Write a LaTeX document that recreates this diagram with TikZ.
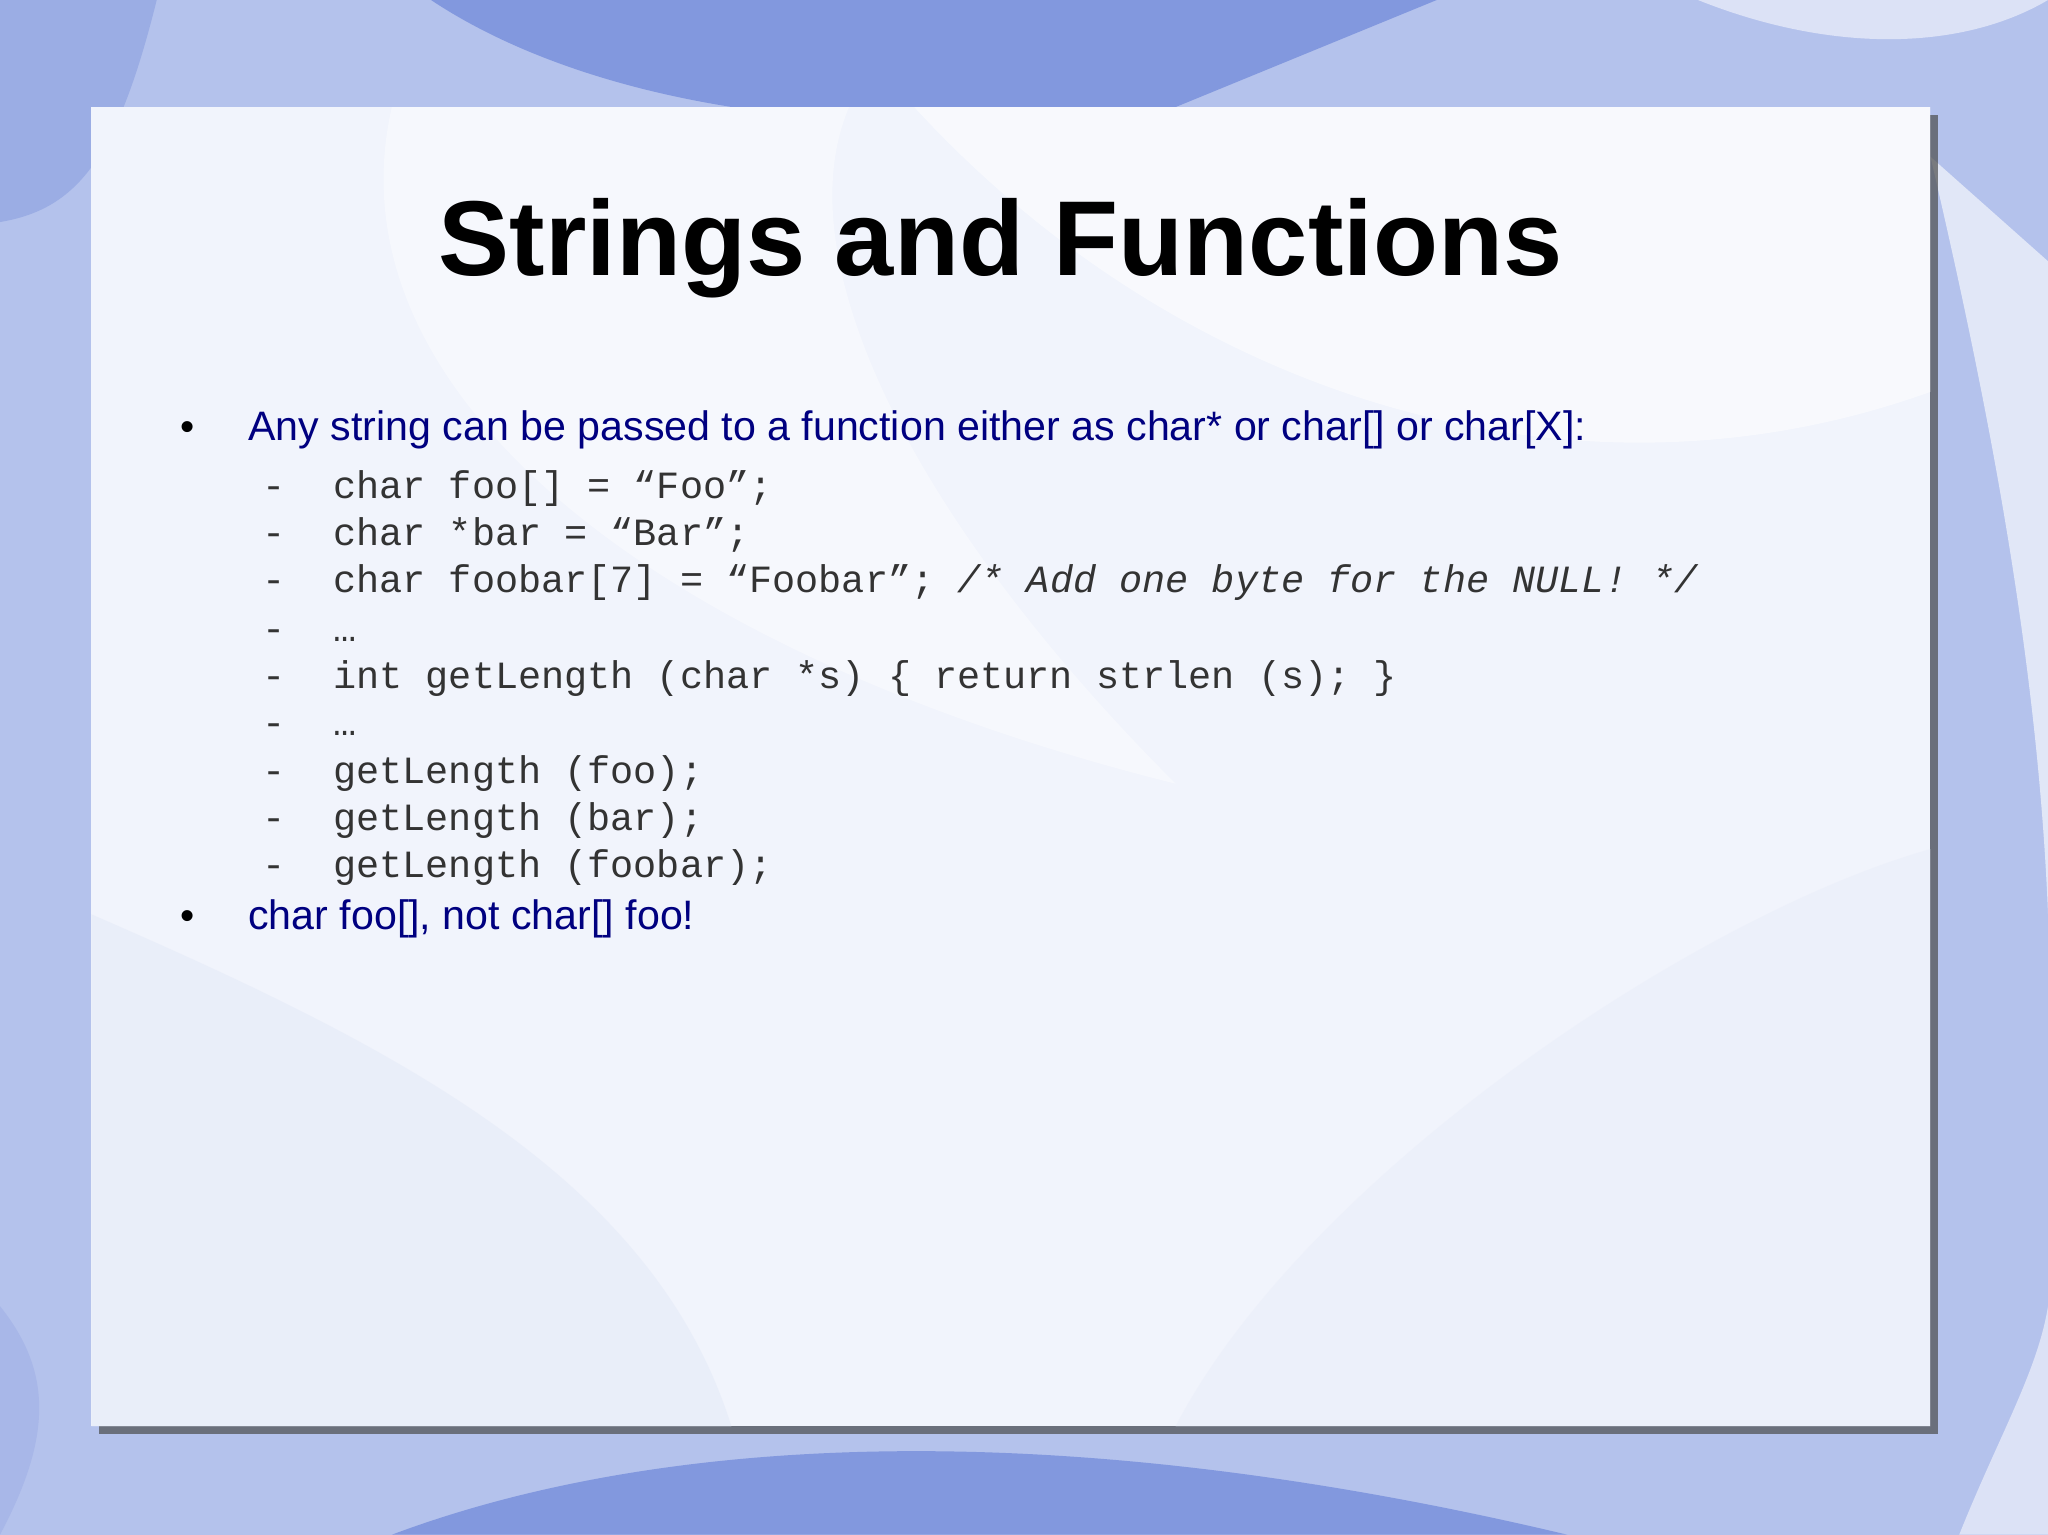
\documentclass[tikz,border=0pt]{standalone}
\usepackage{fontspec}
\setmainfont{Liberation Sans}
\setmonofont{Liberation Mono}
\begin{document}
\begin{tikzpicture}[x=1pt,y=-1pt,
  bul/.style={anchor=base west,inner sep=0,font=\fontsize{31.5}{36}\selectfont,text=navyc},
  code/.style={anchor=base west,inner sep=0,font=\ttfamily\fontsize{29.5}{34}\selectfont,text=codec},
  dot/.style={anchor=base west,inner sep=0,font=\fontsize{31}{36}\selectfont,text=black}]
\definecolor{navyc}{HTML}{000080}
\definecolor{codec}{HTML}{333333}
\definecolor{bg}{HTML}{B4C2EC}
\definecolor{blob}{HTML}{8298DE}
\definecolor{pale}{HTML}{DCE2F6}
\useasboundingbox (0,0) rectangle (1568,1175);
\fill[bg] (0,0) rectangle (1568,1175);
\fill[blob] (330,0) .. controls (420,60) and (600,120) .. (900,82) -- (1100,0) -- cycle;
\fill[blob!80] (0,170) .. controls (60,160) and (90,120) .. (120,0) -- (0,0) -- cycle;
\fill[blob!70] (0,1175) .. controls (40,1100) and (40,1050) .. (0,1000) -- cycle;
\fill[blob] (300,1175) .. controls (500,1100) and (800,1080) .. (1200,1175) -- cycle;
\fill[pale] (1300,0) .. controls (1400,40) and (1500,40) .. (1568,0) -- cycle;
\fill[pale] (1500,1175) .. controls (1530,1100) and (1560,1050) .. (1568,1000) -- (1568,1175) -- cycle;
\fill[white!60!bg] (1478,120) .. controls (1520,300) and (1560,500) .. (1568,700) -- (1568,200) -- cycle;
% shadow
\fill[black!70,opacity=0.7] (76,88) rectangle (1484,1098);
% panel
\fill[white!82!bg] (70,82) rectangle (1478,1092);
\begin{scope}
\clip (70,82) rectangle (1478,1092);
\fill[white!65!bg,opacity=0.6] (70,700) .. controls (300,800) and (500,900) .. (560,1092) -- (70,1092) -- cycle;
\fill[white,opacity=0.5] (700,82) .. controls (900,300) and (1200,400) .. (1478,300) -- (1478,82) -- cycle;
\fill[white!70!bg,opacity=0.5] (900,1092) .. controls (1000,900) and (1300,700) .. (1478,650) -- (1478,1092) -- cycle;
\fill[white,opacity=0.4] (300,82) .. controls (250,300) and (500,500) .. (900,600) .. controls (700,400) and (600,200) .. (650,82) -- cycle;
\end{scope}
\node[anchor=base,inner sep=0,font=\bfseries\fontsize{81.5}{95}\selectfont] (title) at (766,211) {Strings and Functions};
\node[dot] (d1) at (138,337) {•};
\node[bul] (b1) at (190,337) {Any string can be passed to a function either as char* or char[] or char[X]:};
\foreach \y/\t [count=\i] in {382/{char foo[] = “Foo”;},418/{char *bar = “Bar”;},
  454/{char foobar[7] = “Foobar”; \textit{/* Add one byte for the NULL! */}},
  491/{…},527/{int getLength (char *s) \{ return strlen (s); \}},563/{…},
  600/{getLength (foo);},636/{getLength (bar);},672/{getLength (foobar);}}{
  \node[code] (h\i) at (201,\y) {-};
  \node[code] (c\i) at (255,\y) {\t};
}
\node[dot] (d2) at (138,712) {•};
\node[bul] (b2) at (190,712) {char foo[], not char[] foo!};
\end{tikzpicture}
\end{document}
